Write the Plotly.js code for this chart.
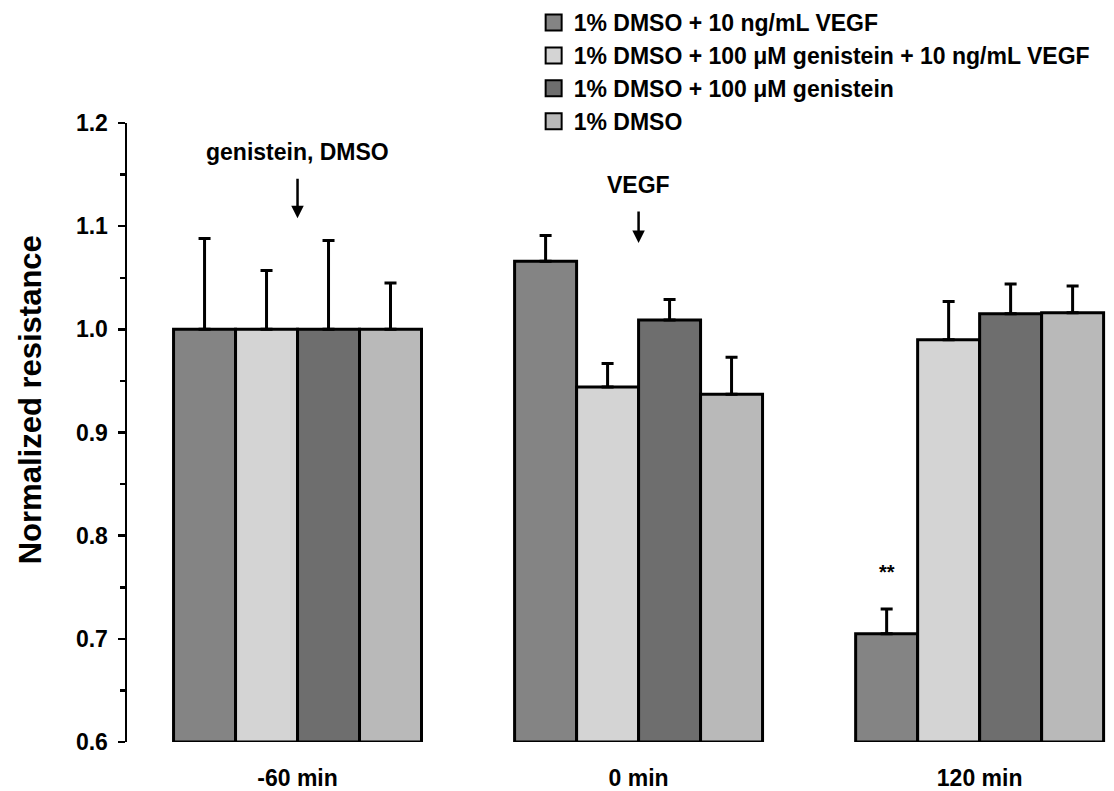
<!DOCTYPE html>
<html>
<head>
<meta charset="utf-8">
<script src="https://cdn.plot.ly/plotly-3.0.1.min.js"></script>
<style>html,body{margin:0;padding:0;background:#fff;} #chart{width:1114px;height:791px;}</style>
</head>
<body>
<div id="chart"></div>
<script>
const categories = ["-60 min", "0 min", "120 min"];
const seriesNames = [
  "1% DMSO + 10 ng/mL VEGF",
  "1% DMSO + 100 μM genistein + 10 ng/mL VEGF",
  "1% DMSO + 100 μM genistein",
  "1% DMSO"
];
const vegf        = [1.000, 1.066, 0.705];
const genVegf     = [1.000, 0.944, 0.990];
const genistein   = [1.000, 1.009, 1.015];
const dmso        = [1.000, 0.937, 1.016];
const vegfErr      = [0.088, 0.025, 0.024];
const genVegfErr   = [0.057, 0.023, 0.037];
const genisteinErr = [0.086, 0.020, 0.029];
const dmsoErr      = [0.045, 0.036, 0.026];
const colors = ["#848484", "#d4d4d4", "#6e6e6e", "#b9b9b9"];
const yTickVals = [0.6, 0.7, 0.8, 0.9, 1.0, 1.1, 1.2];
const baseline = 0.6;

const FONT = "Liberation Sans, Arial, sans-serif";
const values = [vegf, genVegf, genistein, dmso];
const errs = [vegfErr, genVegfErr, genisteinErr, dmsoErr];

const barTraces = values.map((v, i) => ({
  type: "bar",
  name: seriesNames[i],
  x: categories,
  y: v.map(d => d - baseline),
  base: baseline,
  showlegend: false,
  marker: {color: colors[i], line: {color: "#000", width: 3}},
  error_y: {
    type: "data", symmetric: false,
    array: errs[i], arrayminus: errs[i].map(() => 0),
    color: "#000", thickness: 3, width: 6
  },
  hoverinfo: "skip"
}));

// legend-only entries (larger square swatches like the reference)
const legendTraces = seriesNames.map((n, i) => ({
  type: "scatter", mode: "markers", name: n,
  x: [null], y: [null],
  marker: {symbol: "square", size: 16, color: colors[i], line: {color: "#000", width: 2}},
  hoverinfo: "skip"
}));

const layout = {
  width: 1114, height: 791,
  margin: {l: 127, r: 0, t: 123, b: 49},
  paper_bgcolor: "#fff", plot_bgcolor: "#fff",
  barmode: "group",
  bargap: 0.273,
  bargroupgap: 0,
  font: {family: FONT, color: "#000", size: 23, weight: "bold"},
  xaxis: {
    type: "category",
    range: [-0.5, 2.394],
    showline: false, showgrid: false, zeroline: false,
    ticks: "", ticklabelstandoff: 20,
    tickfont: {family: FONT, size: 23, color: "#000", weight: "bold"}
  },
  yaxis: {
    range: [0.6, 1.2],
    tickvals: yTickVals,
    tickformat: ".1f",
    showline: true, linecolor: "#000", linewidth: 2.5,
    ticks: "outside", ticklen: 7, tickwidth: 2.5, tickcolor: "#000",
    minor: {dtick: 0.05, ticks: "outside", ticklen: 5, tickwidth: 2.5, tickcolor: "#000", showgrid: false},
    showgrid: false, zeroline: false,
    ticklabelstandoff: 5,
    tickfont: {family: FONT, size: 23, color: "#000", weight: "bold"}
  },
  showlegend: true,
  legend: {
    x: 0.412, y: 1.197, xanchor: "left", yanchor: "top",
    bgcolor: "rgba(0,0,0,0)",
    font: {family: FONT, size: 23, color: "#000", weight: "bold"},
    traceorder: "normal",
    itemclick: false, itemdoubleclick: false
  },
  annotations: [
    {xref: "paper", yref: "paper", x: -0.098, y: 0.5525, xanchor: "center", yanchor: "middle",
     text: "Normalized resistance",
     textangle: -90, showarrow: false, font: {family: FONT, size: 31, color: "#000", weight: "bold"}},
    {xref: "x", yref: "y", x: 0, y: 1.1076, text: "genistein, DMSO", showarrow: true,
     ax: 0, ay: -66, arrowhead: 2, arrowsize: 1, arrowwidth: 2.5, arrowcolor: "#000", startstandoff: 12,
     font: {family: FONT, size: 23, color: "#000", weight: "bold"}},
    {xref: "x", yref: "y", x: 1, y: 1.0837, text: "VEGF", showarrow: true,
     ax: 0, ay: -58, arrowhead: 2, arrowsize: 1, arrowwidth: 2.5, arrowcolor: "#000", startstandoff: 12,
     font: {family: FONT, size: 23, color: "#000", weight: "bold"}},
    {xref: "x", yref: "y", x: 1.727, y: 0.765, text: "**", showarrow: false,
     font: {family: FONT, size: 20, color: "#000", weight: "bold"}}
  ]
};

Plotly.newPlot("chart", barTraces.concat(legendTraces), layout, {displayModeBar: false, staticPlot: true});
</script>
</body>
</html>
